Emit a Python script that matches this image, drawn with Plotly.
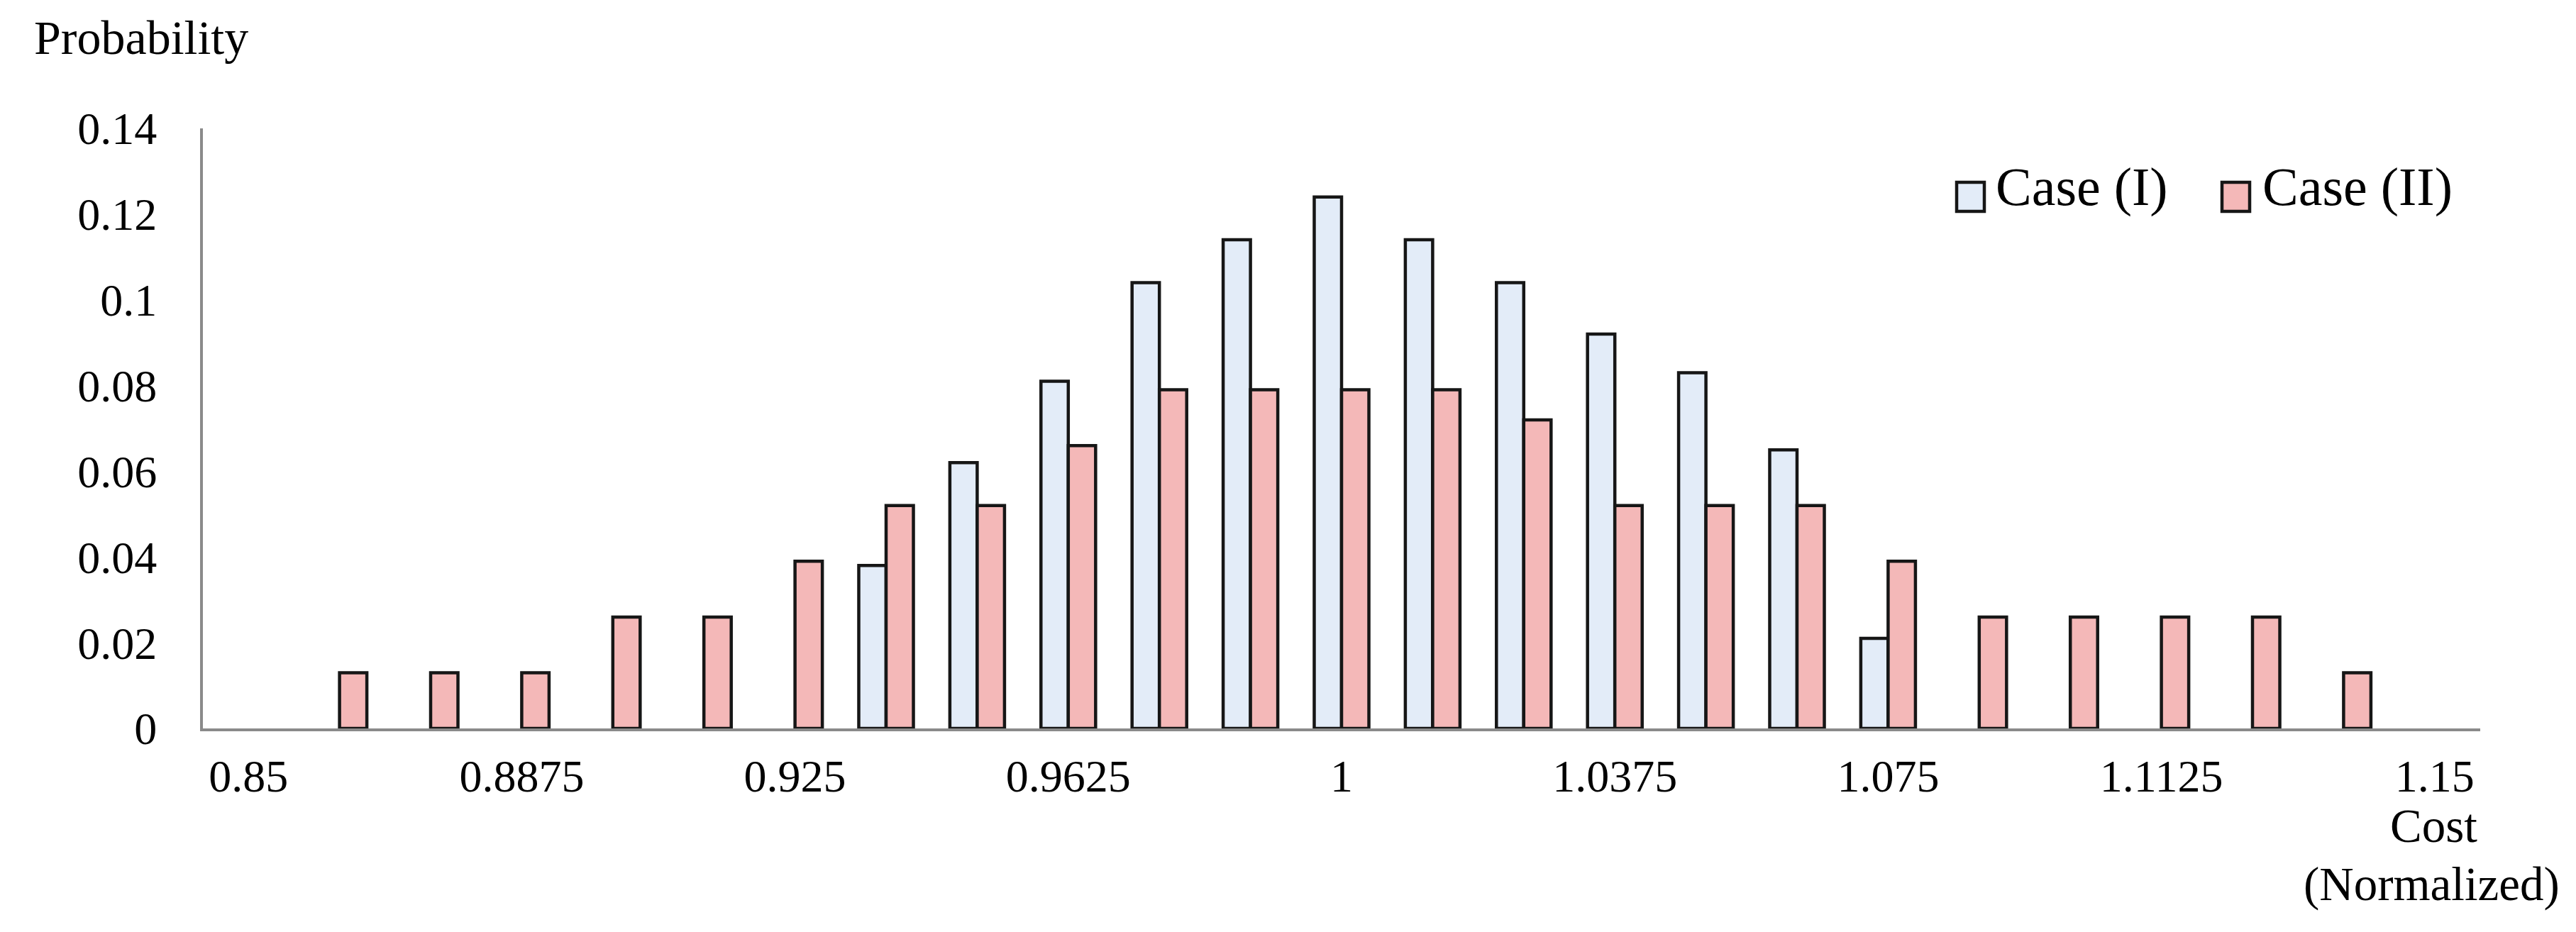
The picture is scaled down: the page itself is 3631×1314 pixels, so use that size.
import plotly.graph_objects as go

# ---------------- data ----------------
categories = ["0.85", "0.8625", "0.875", "0.8875", "0.9", "0.9125", "0.925", "0.9375",
              "0.95", "0.9625", "0.975", "0.9875", "1", "1.0125", "1.025", "1.0375",
              "1.05", "1.0625", "1.075", "1.0875", "1.1", "1.1125", "1.125", "1.1375", "1.15"]

case_I = [None, None, None, None, None, None, None, 0.038,
          0.062, 0.081, 0.104, 0.114, 0.124, 0.114, 0.104, 0.092,
          0.083, 0.065, 0.021, None, None, None, None, None, None]

case_II = [None, 0.013, 0.013, 0.013, 0.026, 0.026, 0.039, 0.052,
           0.052, 0.066, 0.079, 0.079, 0.079, 0.079, 0.072, 0.052,
           0.052, 0.052, 0.039, 0.026, 0.026, 0.026, 0.026, 0.013, None]

tick_labels = ["0.85", "0.8875", "0.925", "0.9625", "1", "1.0375", "1.075", "1.1125", "1.15"]
y_ticks = [0, 0.02, 0.04, 0.06, 0.08, 0.1, 0.12, 0.14]
series_names = ["Case (I)", "Case (II)"]

# ---------------- style ----------------
W, H = 3631, 1314
ML, MR, MT, MB = 278, 143, 173, 295
PW, PH = W - ML - MR, H - MT - MB
FONT = "Liberation Serif"
BLUE = "#E3ECF8"
RED = "#F4B8B8"
EDGE = "#161616"
AXIS = "#8a8a8a"


def px_x(px):
    return (px - ML) / PW


def px_y(py):
    return (H - MB - py) / PH


fig = go.Figure()
fig.add_trace(go.Bar(x=categories, y=case_I, name=series_names[0],
                     marker=dict(color=BLUE, line=dict(color=EDGE, width=4.5)),
                     showlegend=False))
fig.add_trace(go.Bar(x=categories, y=case_II, name=series_names[1],
                     marker=dict(color=RED, line=dict(color=EDGE, width=4.5)),
                     showlegend=False))

fig.update_layout(
    width=W, height=H,
    margin=dict(l=ML, r=MR, t=MT, b=MB, pad=0),
    paper_bgcolor="white", plot_bgcolor="white",
    barmode="group", bargap=0.4, bargroupgap=0,
    font=dict(family=FONT, size=64, color="black"),
)

fig.update_xaxes(
    type="category", categoryorder="array", categoryarray=categories,
    tickmode="array", tickvals=tick_labels, ticktext=tick_labels,
    showline=True, linecolor=AXIS, linewidth=4, showgrid=False, zeroline=False,
    ticks="", tickfont=dict(family=FONT, size=64, color="black"),
    ticklabelstandoff=8,
)
fig.update_yaxes(
    range=[0, 0.14], tickmode="array", tickvals=y_ticks,
    showline=True, linecolor=AXIS, linewidth=4, showgrid=False, zeroline=False,
    ticks="", tickfont=dict(family=FONT, size=64, color="black"),
    ticklabelstandoff=48,
)

annotations = [
    dict(text="Probability", x=px_x(38), y=px_y(45), xanchor="left", yanchor="middle",
         font=dict(size=68)),
    dict(text="Cost", x=px_x(3422), y=px_y(1156), xanchor="center", yanchor="middle",
         font=dict(size=67)),
    dict(text="(Normalized)", x=px_x(3419), y=px_y(1238), xanchor="center", yanchor="middle",
         font=dict(size=67)),
    dict(text=series_names[0], x=px_x(2803), y=px_y(255), xanchor="left", yanchor="middle",
         font=dict(size=76)),
    dict(text=series_names[1], x=px_x(3179), y=px_y(255), xanchor="left", yanchor="middle",
         font=dict(size=76)),
]
for a in annotations:
    a.update(xref="paper", yref="paper", showarrow=False)
    a["font"].update(family=FONT, color="black")

shapes = []
for x0, col in [(2750, BLUE), (3124, RED)]:
    shapes.append(dict(type="rect", xref="paper", yref="paper",
                       x0=px_x(x0), x1=px_x(x0 + 39), y0=px_y(290), y1=px_y(249),
                       fillcolor=col, line=dict(color=EDGE, width=4.5)))

fig.update_layout(annotations=annotations, shapes=shapes)

fig.write_html("out.html")
